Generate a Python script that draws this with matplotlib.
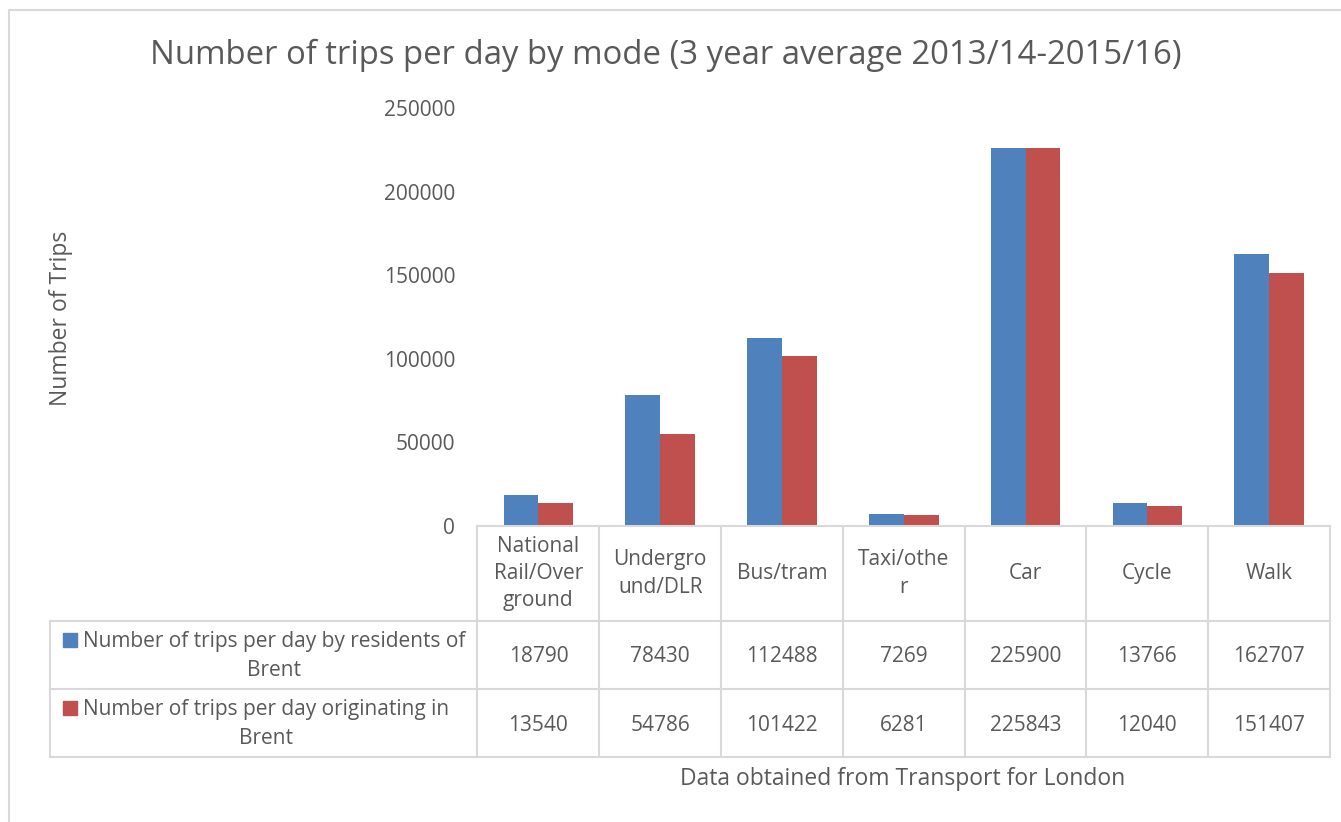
import matplotlib.pyplot as plt
from matplotlib.patches import Rectangle
from matplotlib.lines import Line2D
import numpy as np

plt.rcParams['font.family'] = ['Open Sans', 'DejaVu Sans']

# Data
modes = ['National\nRail/Over\nground', 'Undergro\nund/DLR', 'Bus/tram',
         'Taxi/othe\nr', 'Car', 'Cycle', 'Walk']
residents = [18790, 78430, 112488, 7269, 225900, 13766, 162707]
originating = [13540, 54786, 101422, 6281, 225843, 12040, 151407]
series_names = ['Number of trips per day by residents of\nBrent',
                'Number of trips per day originating in\nBrent']
yticks = [0, 50000, 100000, 150000, 200000, 250000]

blue = '#4F81BD'
red = '#C0504D'
txt = '#595959'
grid = '#D9D9D9'

W, H = 1341, 822
fig = plt.figure(figsize=(W / 100, H / 100), dpi=100)

def fx(px):
    return px / W

def fy(py):
    return 1 - py / H

# chart border (runs off the right and bottom edge like the screenshot)
fig.patches.append(Rectangle((fx(9), fy(900)), 2, fy(10) - fy(900),
                             transform=fig.transFigure, fill=False,
                             edgecolor=grid, linewidth=1.5))

ax_l, ax_r, ax_t, ax_b = 477.5, 1330, 108, 526
ax = fig.add_axes([fx(ax_l), fy(ax_b), fx(ax_r - ax_l), fy(ax_t) - fy(ax_b)])

x = np.arange(len(modes))
bw = 1 / 3.5
ax.bar(x - bw / 2, residents, bw, color=blue)
ax.bar(x + bw / 2, originating, bw, color=red)
ax.set_xlim(-0.5, len(modes) - 0.5)
ax.set_ylim(0, 250000)
ax.set_yticks(yticks)
ax.set_yticklabels([str(v) for v in yticks])
ax.set_xticks([])
ax.tick_params(axis='y', length=0, pad=16, labelsize=15, labelcolor=txt)
for s in ax.spines.values():
    s.set_visible(False)

fig.text(fx(666), fy(55), 'Number of trips per day by mode (3 year average 2013/14-2015/16)',
         ha='center', va='center', fontsize=23.7, color=txt)
fig.text(fx(61), fy(318), 'Number of Trips', rotation=90, ha='center', va='center',
         fontsize=16.5, color=txt)
fig.text(fx(903), fy(779), 'Data obtained from Transport for London',
         ha='center', va='center', fontsize=16.5, color=txt)

# data table below the axis
rows = [526, 621, 689, 757]
tbl_left = 50
col_x = [ax_l + (ax_r - ax_l) * k / len(modes) for k in range(len(modes) + 1)]

def hline(y, x0, x1):
    fig.lines.append(Line2D([fx(x0), fx(x1)], [fy(y), fy(y)], transform=fig.transFigure,
                            color=grid, linewidth=1.5))

def vline(xp, y0, y1):
    fig.lines.append(Line2D([fx(xp), fx(xp)], [fy(y0), fy(y1)], transform=fig.transFigure,
                            color=grid, linewidth=1.5))

hline(rows[0], col_x[0], col_x[-1])
for r in rows[1:]:
    hline(r, tbl_left, col_x[-1])
for c in col_x:
    vline(c, rows[0], rows[-1])
vline(tbl_left, rows[1], rows[-1])

for i, m in enumerate(modes):
    cx = (col_x[i] + col_x[i + 1]) / 2
    fig.text(fx(cx), fy((rows[0] + rows[1]) / 2), m, ha='center', va='center',
             fontsize=15, color=txt, linespacing=1.4)

for j, (name, vals, col) in enumerate([(series_names[0], residents, blue),
                                         (series_names[1], originating, red)]):
    yc = (rows[j + 1] + rows[j + 2]) / 2
    fig.patches.append(Rectangle((fx(63), fy(yc - 8)), fx(14), fy(yc - 22) - fy(yc - 8),
                                 transform=fig.transFigure, color=col))
    fig.text(fx(83), fy(yc + 1), name, ha='left', va='center', multialignment='center',
             fontsize=15, color=txt, linespacing=1.45)
    for i, v in enumerate(vals):
        cx = (col_x[i] + col_x[i + 1]) / 2
        fig.text(fx(cx), fy(yc + 2), str(v), ha='center', va='center', fontsize=15, color=txt)

fig.savefig('out.png', dpi=100)
